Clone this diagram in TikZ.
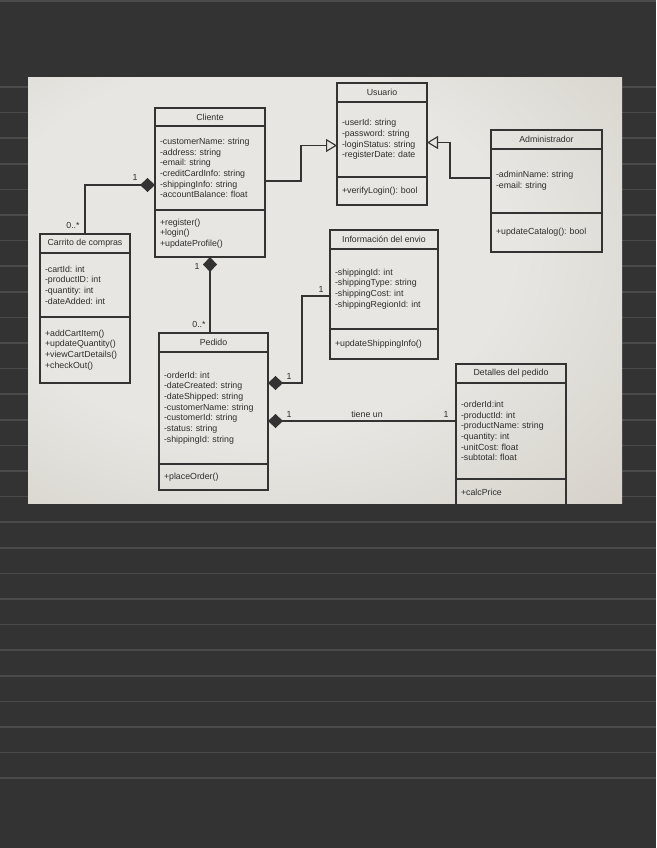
\documentclass[tikz,border=0pt]{standalone}
\usepackage{fontspec}
\setmainfont{Liberation Sans}
\usetikzlibrary{arrows.meta,positioning}
\frenchspacing

\definecolor{board}{HTML}{333333}
\definecolor{ruling}{HTML}{4A4A4A}
\definecolor{paperhi}{HTML}{E7E6E2}
\definecolor{papermid}{HTML}{D5D1C9}
\definecolor{paperlo}{HTML}{A49D8F}
\definecolor{umlline}{HTML}{333333}
\definecolor{umlink}{HTML}{2E2E2E}

\newcommand{\umlfont}{\fontsize{8.8}{10.7}\selectfont}

\pgfdeclareradialshading{photoshade}{\pgfpoint{-8bp}{6bp}}{%
    color(0bp)=(paperhi); color(22bp)=(paperhi); color(42bp)=(papermid);
    color(64bp)=(paperlo); color(100bp)=(paperlo)}

\tikzset{
    clshead/.style = {rectangle,
                    anchor=north west,
                    fill=none,
                    draw=umlline,
                    text=umlink,
                    line width=1.1pt,
                    inner sep=0pt,
                    outer sep=0pt,
                    align=center,
                    minimum height=19pt,
                    font=\umlfont},
    clsbody/.style = {rectangle,
                    fill=none,
                    draw=umlline,
                    text=umlink,
                    line width=1.1pt,
                    inner xsep=5pt,
                    inner ysep=0pt,
                    outer sep=0pt,
                    align=left,
                    font=\umlfont},
    lbl/.style =    {text=umlink,
                    inner sep=0pt,
                    font=\umlfont},
    -,
    comp/.style =   {draw=umlline,
                    line width=1.1pt,
                    {Diamond[length=15pt,width=14pt,fill=umlline]}-},
    gen/.style =    {draw=umlline,
                    line width=1.1pt,
                    -{Triangle[open,length=11pt,width=13pt]}},
    rule/.style =   {draw=ruling,
                    line width=1.6pt}}

\begin{document}
\begin{tikzpicture}[x=1pt,y=-1pt]
        \useasboundingbox (0,0) rectangle (656,848);
        \fill[board] (0,0) rectangle (656,848);
        \draw[rule] (0,1) -- (656,1);
        \foreach \k in {0,...,27}
            \draw[rule] (0,87+25.6*\k) -- (656,87+25.6*\k);

        \path[shading=photoshade] (28,78) rectangle (622,503);

        \begin{scope}
        \clip (28,78) rectangle (622,503);

        \node[clshead, minimum width=110pt, minimum height=18pt] (cli) at (155,108) {Cliente};
        \node[clsbody, text width=100pt, minimum height=84pt] (cli-a) [below=0pt of cli]
            {-customerName: string\\-address: string\\-email: string\\-creditCardInfo: string\\-shippingInfo: string\\-accountBalance: float};
        \node[clsbody, text width=100pt, minimum height=47pt] (cli-m) [below=0pt of cli-a]
            {+register()\\+login()\\+updateProfile()};

        \node[clshead, minimum width=90pt] (usr) at (337,83) {Usuario};
        \node[clsbody, text width=80pt, minimum height=75pt] (usr-a) [below=0pt of usr]
            {-userId: string\\-password: string\\-loginStatus: string\\-registerDate: date};
        \node[clsbody, text width=80pt, minimum height=28pt] (usr-m) [below=0pt of usr-a]
            {+verifyLogin(): bool};

        \node[clshead, minimum width=111pt] (adm) at (491,130) {Administrador};
        \node[clsbody, text width=101pt, minimum height=64pt] (adm-a) [below=0pt of adm]
            {-adminName: string\\-email: string};
        \node[clsbody, text width=101pt, minimum height=39pt] (adm-m) [below=0pt of adm-a]
            {+updateCatalog(): bool};

        \node[clshead, minimum width=90pt] (car) at (40,234) {Carrito de compras};
        \node[clsbody, text width=80pt, minimum height=64pt] (car-a) [below=0pt of car]
            {-cartId: int\\-productID: int\\-quantity: int\\-dateAdded: int};
        \node[clsbody, text width=80pt, minimum height=66pt] (car-m) [below=0pt of car-a]
            {+addCartItem()\\+updateQuantity()\\+viewCartDetails()\\+checkOut()};

        \node[clshead, minimum width=108pt] (env) at (330,230) {Información del envio};
        \node[clsbody, text width=98pt, minimum height=80pt] (env-a) [below=0pt of env]
            {-shippingId: int\\-shippingType: string\\-shippingCost: int\\-shippingRegionId: int};
        \node[clsbody, text width=98pt, minimum height=30pt] (env-m) [below=0pt of env-a]
            {+updateShippingInfo()};

        \node[clshead, minimum width=109pt] (ped) at (159,333) {Pedido};
        \node[clsbody, text width=99pt, minimum height=112pt] (ped-a) [below=0pt of ped]
            {-orderId: int\\-dateCreated: string\\-dateShipped: string\\-customerName: string\\-customerId: string\\-status: string\\-shippingId: string};
        \node[clsbody, text width=99pt, minimum height=26pt] (ped-m) [below=0pt of ped-a]
            {+placeOrder()};

        \node[clshead, minimum width=110pt] (det) at (456,364) {Detalles del pedido};
        \node[clsbody, text width=100pt, minimum height=96pt] (det-a) [below=0pt of det]
            {-orderId:int\\-productId: int\\-productName: string\\-quantity: int\\-unitCost: float\\-subtotal: float};
        \node[clsbody, text width=100pt, minimum height=26pt] (det-m) [below=0pt of det-a]
            {+calcPrice};

        \draw[gen]  ([yshift=-13pt]cli-a.east) -- ++(36pt,0) |- ([yshift=-6pt]usr-a.west);
        \draw[gen]  ([yshift=3pt]adm-a.west) -- ++(-41pt,0) |- ([yshift=-3pt]usr-a.east);
        \draw[comp] ([yshift=-17pt]cli-a.west) -| (car.north);
        \draw[comp] (cli-m.south) -- (cli-m.south |- ped.north);
        \draw[comp] ([yshift=25pt]ped-a.east) -- ++(34pt,0) |- ([yshift=-7pt]env-a.west);
        \draw[comp] ([yshift=-13pt]ped-a.east) -- ([yshift=-13pt]ped-a.east -| det-a.west);

        \node[lbl] (m1) at (135,177) {1};
        \node[lbl] (m2) at (73,225)  {0..*};
        \node[lbl] (m3) at (197,266) {1};
        \node[lbl] (m4) at (199,324) {0..*};
        \node[lbl] (m5) at (289,376) {1};
        \node[lbl] (m6) at (321,289) {1};
        \node[lbl] (m7) at (289,414) {1};
        \node[lbl] (has) at (367,414) {tiene un};
        \node[lbl] (m8) at (446,414) {1};
        \end{scope}
\end{tikzpicture}
\end{document}
